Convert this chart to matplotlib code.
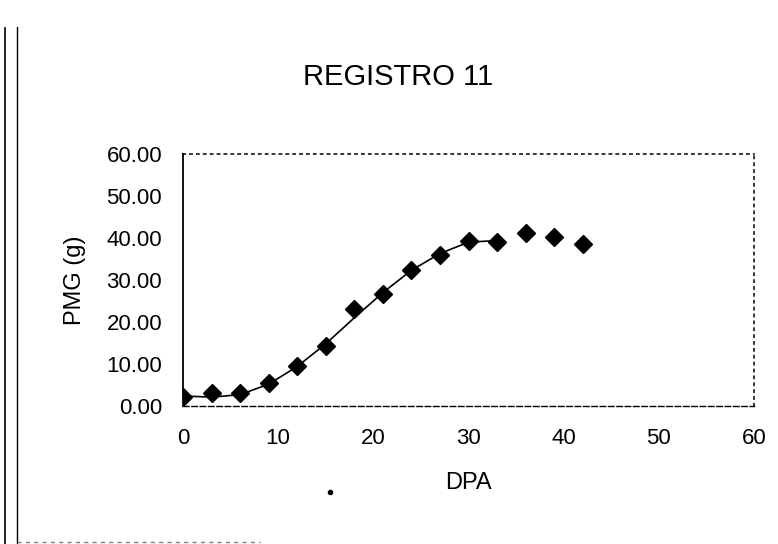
import matplotlib
matplotlib.use('Agg')
import matplotlib.pyplot as plt
from matplotlib.lines import Line2D

# DPA (days) vs PMG (g)
dpa = [0, 3, 6, 9, 12, 15, 18, 21, 24, 27, 30, 33, 36, 39, 42]
pmg = [2.2, 3.2, 3.0, 5.5, 9.5, 14.3, 23.0, 26.7, 32.4, 35.9, 39.3, 39.1, 41.1, 40.3, 38.6]

# fitted curve as drawn in the picture (only up to day 33)
fit_x = [0, 3, 6, 9, 12, 15, 18, 21, 24, 27, 30, 33]
fit_y = [2.4, 2.1, 2.7, 5.2, 9.4, 14.8, 21.0, 27.0, 32.3, 36.3, 39.0, 39.4]

xticks = [0, 10, 20, 30, 40, 50, 60]
yticks = [0, 10, 20, 30, 40, 50, 60]

plt.rcParams['font.family'] = ['Liberation Sans', 'DejaVu Sans']

fig = plt.figure(figsize=(7.78, 5.44), dpi=100)
ax = fig.add_axes([0.2352, 0.2537, 0.734, 0.4632])

ax.plot(fit_x, fit_y, color='black', lw=1.2, zorder=2)
ax.plot(dpa, pmg, linestyle='none', marker='D', markersize=9.5,
        color='black', zorder=3)

ax.set_xlim(0, 60)
ax.set_ylim(0, 60)
ax.set_xticks(xticks)
ax.set_yticks(yticks)
ax.set_yticklabels(['%.2f' % v for v in yticks])
ax.tick_params(axis='both', length=0, labelsize=16)
ax.tick_params(axis='x', pad=16)
ax.tick_params(axis='y', pad=15)

ax.spines['left'].set_linewidth(1.3)
ax.spines['bottom'].set_linestyle((0, (4, 2)))
ax.spines['bottom'].set_linewidth(1.0)
for side in ['top', 'right']:
    ax.spines[side].set_linestyle((0, (1.5, 3)))
    ax.spines[side].set_linewidth(1.1)

ax.set_xlabel('DPA', fontsize=17, va='center')
ax.set_ylabel('PMG (g)', fontsize=17, va='center')
ax.xaxis.set_label_coords(0.5, -0.306)
ax.yaxis.set_label_coords(-0.189, 0.5)
fig.text(0.512, 0.858, 'REGISTRO 11', ha='center', va='center', fontsize=21)

# scan borders on the left and bottom
fig.add_artist(Line2D([5 / 778, 5 / 778], [0, 1 - 28 / 544],
                      transform=fig.transFigure, color='black', lw=1.2))
fig.add_artist(Line2D([17 / 778, 17 / 778], [0, 1 - 27 / 544],
                      transform=fig.transFigure, color='black', lw=1.0))
fig.add_artist(Line2D([17 / 778, 260 / 778], [2 / 544, 2 / 544],
                      transform=fig.transFigure, color='gray', lw=1.0,
                      linestyle=(0, (3, 3))))
fig.add_artist(Line2D([330 / 778], [1 - 492 / 544], transform=fig.transFigure,
                      marker='o', markersize=3, color='black', linestyle='none'))

fig.savefig('out.png', dpi=100)
